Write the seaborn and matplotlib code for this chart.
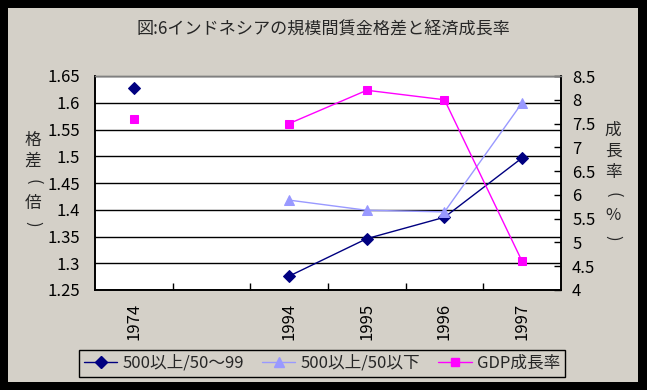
import numpy as np
import pandas as pd
import matplotlib
matplotlib.use('Agg')
import matplotlib.pyplot as plt
import seaborn as sns
from matplotlib.patches import Rectangle
from matplotlib.lines import Line2D

# データ（空のカテゴリは欠損値）
years = ['1974', '', '1994', '1995', '1996', '1997']
gap_500_50_99 = [1.627, np.nan, 1.276, 1.346, 1.386, 1.497]
gap_500_under50 = [np.nan, np.nan, 1.418, 1.399, 1.396, 1.600]
gdp_growth = [7.6, np.nan, 7.5, 8.2, 8.0, 4.6]

series_names = ['500以上/50～99', '500以上/50以下', 'GDP成長率']
title = '図:6インドネシアの規模間賃金格差と経済成長率'
left_label = ['格', '差', '(', '倍', ')']
right_label = ['成', '長', '率', '(', '%', ')']

BG = '#d4d0c8'
NAVY = '#000080'
LIGHT = '#9999ff'
MAGENTA = '#ff00ff'

df = pd.DataFrame({'pos': range(len(years)),
                   'a': gap_500_50_99, 'b': gap_500_under50, 'c': gdp_growth})
# 欠損値で線を切るためのセグメント番号
for col in ['a', 'b', 'c']:
    df[col + '_seg'] = df[col].isna().cumsum()

sns.set_theme(style='white')
plt.rcParams['font.family'] = ['Noto Sans CJK JP', 'DejaVu Sans']

W, H = 647, 390
fig = plt.figure(figsize=(W / 100, H / 100), dpi=100, facecolor='black')
fig.patches.append(Rectangle((8 / W, 8 / H), 630 / W, 374 / H, transform=fig.transFigure,
                             facecolor=BG, edgecolor='none', zorder=-10))

ax = fig.add_axes([95 / W, 100 / H, 466 / W, 214 / H])
ax.set_facecolor('white')

sns.lineplot(data=df.dropna(subset=['a']), x='pos', y='a', units='a_seg', estimator=None,
             ax=ax, color=NAVY, lw=1, marker='D', markersize=6, markeredgecolor=NAVY)
sns.lineplot(data=df.dropna(subset=['b']), x='pos', y='b', units='b_seg', estimator=None,
             ax=ax, color=LIGHT, lw=1, marker='^', markersize=7, markeredgecolor=LIGHT)

ax.set_xlim(-0.5, len(years) - 0.5)
ax.set_ylim(1.25, 1.65)
lticks = np.arange(1.25, 1.651, 0.05)
ax.set_yticks(lticks)
ax.set_yticklabels([f'{v:g}' for v in lticks])
ax.set_xticks(range(len(years)))
ax.set_xticklabels(years, rotation=90)
ax.set_xticks(np.arange(0.5, len(years) - 1, 1), minor=True)
ax.tick_params(axis='x', which='major', length=0, pad=9, labelsize=12, colors='black')
ax.tick_params(axis='x', which='minor', bottom=True, direction='in', length=5,
               width=1, color='black')
ax.tick_params(axis='y', length=0, pad=11, labelsize=12, colors='black')
ax.yaxis.grid(True, color='black', lw=1)
ax.set_axisbelow(True)
ax.set_xlabel('')
ax.set_ylabel('')

ax2 = ax.twinx()
sns.lineplot(data=df.dropna(subset=['c']), x='pos', y='c', units='c_seg', estimator=None,
             ax=ax2, color=MAGENTA, lw=1, marker='s', markersize=6, markeredgecolor=MAGENTA)
ax2.set_ylim(4, 8.5)
rticks = np.arange(4, 8.51, 0.5)
ax2.set_yticks(rticks)
ax2.set_yticklabels([f'{v:g}' for v in rticks])
ax2.tick_params(axis='y', right=True, direction='in', length=5, width=1,
                color='black', pad=8, labelsize=12, labelcolor='black')
ax2.set_ylabel('')
ax2.set_xlabel('')

for a in (ax, ax2):
    for side in ['left', 'right', 'bottom']:
        a.spines[side].set_color('black')
        a.spines[side].set_linewidth(1.2)
    a.spines['top'].set_color('#808080')
    a.spines['top'].set_linewidth(1)

fig.text(0.5, 1 - 30 / H, title, ha='center', va='center', fontsize=12.3)


def vertical_label(chars, x, y0, step):
    # 縦書き：括弧は90度回して縦書き用の形にする
    for i, ch in enumerate(chars):
        rot = -90 if ch in '()' else 0
        fig.text(x / W, 1 - (y0 + i * step) / H, ch, ha='center', va='center',
                 fontsize=12, rotation=rot)


vertical_label(left_label, 33, 140, 21)
vertical_label(right_label, 613, 130, 21.5)

handles = [
    Line2D([], [], color=NAVY, lw=1, marker='D', markersize=6),
    Line2D([], [], color=LIGHT, lw=1, marker='^', markersize=7),
    Line2D([], [], color=MAGENTA, lw=1, marker='s', markersize=6),
]
leg = fig.legend(handles, series_names, ncol=3, loc='center', bbox_to_anchor=(322 / W, 27 / H),
                 frameon=True, fancybox=False, edgecolor='black', facecolor=BG, framealpha=1,
                 fontsize=12, handlelength=2, columnspacing=1.1, handletextpad=0.3,
                 borderpad=0.3, borderaxespad=0)
leg.get_frame().set_linewidth(1)

fig.savefig('out.png', dpi=100, facecolor='black')
